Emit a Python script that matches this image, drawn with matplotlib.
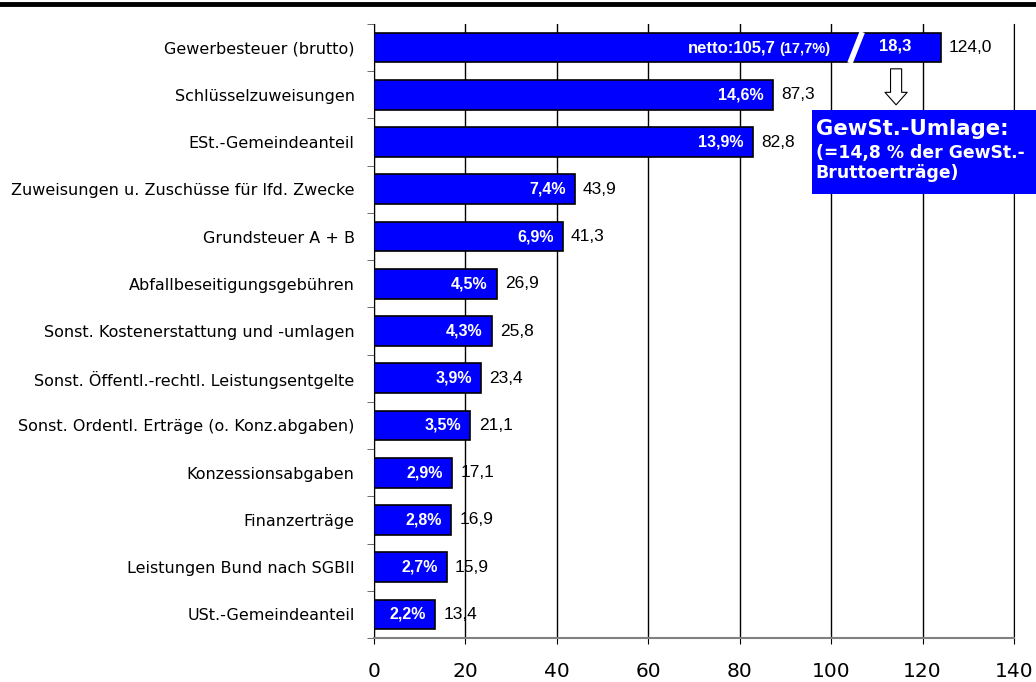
import numpy as np
import matplotlib.pyplot as plt
from matplotlib.patches import Rectangle
from matplotlib.lines import Line2D

# data
kategorien = ['Gewerbesteuer (brutto)', 'Schlüsselzuweisungen', 'ESt.-Gemeindeanteil',
              'Zuweisungen u. Zuschüsse für lfd. Zwecke', 'Grundsteuer A + B',
              'Abfallbeseitigungsgebühren', 'Sonst. Kostenerstattung und -umlagen',
              'Sonst. Öffentl.-rechtl. Leistungsentgelte',
              'Sonst. Ordentl. Erträge (o. Konz.abgaben)', 'Konzessionsabgaben',
              'Finanzerträge', 'Leistungen Bund nach SGBII', 'USt.-Gemeindeanteil']
werte = [124.0, 87.3, 82.8, 43.9, 41.3, 26.9, 25.8, 23.4, 21.1, 17.1, 16.9, 15.9, 13.4]
anteile = ['17,7%', '14,6%', '13,9%', '7,4%', '6,9%', '4,5%', '4,3%', '3,9%', '3,5%',
           '2,9%', '2,8%', '2,7%', '2,2%']
netto = 105.7
umlage = 18.3

def fmt(v):
    return f'{v:.1f}'.replace('.', ',')

fig = plt.figure(figsize=(10.36, 6.82), dpi=100)
ax = fig.add_axes([0.361, 0.0645, 0.6178, 0.9003])

y = np.arange(len(kategorien))
ax.barh(y, werte, height=0.63, color='#0000FF', edgecolor='black', linewidth=1.2, zorder=3)

ax.set_xlim(0, 140)
ax.set_ylim(len(kategorien) - 0.5, -0.5)
ax.set_xticks(np.arange(0, 141, 20))
ax.set_xticklabels([str(v) for v in range(0, 141, 20)], fontsize=14.5, family='DejaVu Sans')
ax.tick_params(axis='x', length=4, pad=13)
ax.grid(axis='x', color='black', linewidth=1, zorder=0)

ax.set_yticks(y)
ax.set_yticklabels(kategorien, fontsize=11.5, family='DejaVu Sans')
ax.tick_params(axis='y', length=0, pad=14)
ax.set_yticks(np.arange(-0.5, len(kategorien), 1), minor=True)
ax.tick_params(axis='y', which='minor', length=5, color='#555555')

ax.spines['top'].set_visible(False)
ax.spines['right'].set_color('black')
ax.spines['left'].set_color('black')
ax.spines['bottom'].set_color('#808080')
ax.spines['bottom'].set_linewidth(1.5)

# labels
for i, v in enumerate(werte):
    ax.text(v + 1.8, i, fmt(v), va='center', ha='left', fontsize=12.5,
            family='Liberation Sans', zorder=5)
    if i > 0:
        ax.text(v - 2.0, i, anteile[i], va='center', ha='right', fontsize=11.5,
                fontweight='bold', color='white', family='Liberation Sans', zorder=5)

# Gewerbesteuer split
ax.plot([104.1, 106.8], [0.33, -0.33], color='white', linewidth=4, zorder=4,
        solid_capstyle='butt')
ax.text(87.8, 0, 'netto:' + fmt(netto), va='center', ha='right', fontsize=12,
        fontweight='bold', color='white', family='Liberation Sans', zorder=5)
ax.text(99.8, 0.02, '(' + anteile[0] + ')', va='center', ha='right', fontsize=10.5,
        fontweight='bold', color='white', family='Liberation Sans', zorder=5)
ax.text(netto + umlage / 2 - 0.8, -0.03, fmt(umlage), va='center', ha='center',
        fontsize=12, fontweight='bold', color='white', family='Liberation Sans', zorder=5)

# arrow and box
ax.annotate('', xy=(114.2, 1.27), xytext=(114.2, 0.39),
            arrowprops=dict(arrowstyle='simple,head_length=0.9,head_width=1.6,tail_width=0.8',
                            fc='white', ec='black', lw=0.8), annotation_clip=False, zorder=6)
ax.add_patch(Rectangle((95.8, 1.32), 49.5, 1.78, facecolor='#0000FF', edgecolor='none',
                       clip_on=False, zorder=6))
ax.text(96.6, 1.72, 'GewSt.-Umlage:', va='center', ha='left', fontsize=15.3, fontweight='bold',
        color='white', family='DejaVu Sans', zorder=7, clip_on=False)
ax.text(96.6, 2.24, '(=14,8 % der GewSt.-', va='center', ha='left', fontsize=12.4,
        fontweight='bold', color='white', family='DejaVu Sans', zorder=7, clip_on=False)
ax.text(96.6, 2.66, 'Bruttoerträge)', va='center', ha='left', fontsize=12.4,
        fontweight='bold', color='white', family='DejaVu Sans', zorder=7, clip_on=False)

# top line
fig.add_artist(Line2D([0, 1], [0.9935, 0.9935], color='black', linewidth=3.5,
                      transform=fig.transFigure))

fig.savefig('out.png', dpi=100)
